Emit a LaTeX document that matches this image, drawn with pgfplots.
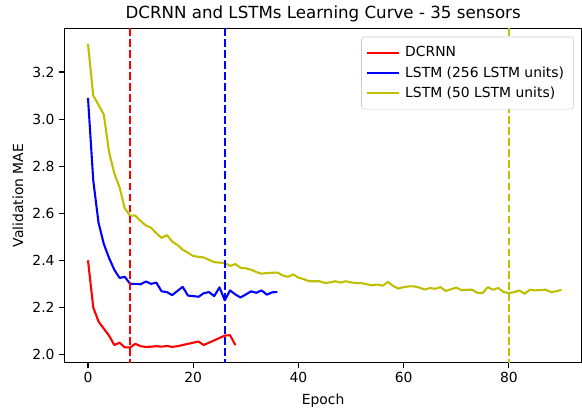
\documentclass[border=0pt]{standalone}
\usepackage{fontspec}
\setmainfont{DejaVu Sans}
\usepackage{pgfplots}
\pgfplotsset{compat=1.18}
\definecolor{mplY}{rgb}{0.75,0.75,0}
\definecolor{legFrame}{gray}{0.8}

\pgfplotstableread{
e v
0 2.40
1 2.20
2 2.14
3 2.11
4 2.08
5 2.04
6 2.05
7 2.03
8 2.03
9 2.045
10 2.035
11 2.032
12 2.033
13 2.035
14 2.033
15 2.036
16 2.032
17 2.035
18 2.04
19 2.045
20 2.05
21 2.055
22 2.04
23 2.05
24 2.06
25 2.07
26 2.08
27 2.082
28 2.04
}\dcrnn

\pgfplotstableread{
e v
0 3.09
1 2.74
2 2.56
3 2.47
4 2.41
5 2.36
6 2.325
7 2.33
8 2.30
9 2.30
10 2.298
11 2.31
12 2.30
13 2.305
14 2.268
15 2.265
16 2.252
17 2.27
18 2.287
19 2.25
20 2.248
21 2.245
22 2.26
23 2.265
24 2.248
25 2.285
26 2.23
27 2.272
28 2.255
29 2.242
30 2.255
31 2.268
32 2.262
33 2.272
34 2.254
35 2.264
36 2.265
}\lstmbig

\pgfplotstableread{
e v
0 3.32
1 3.10
2 3.06
3 3.02
4 2.86
5 2.77
6 2.71
7 2.62
8 2.59
9 2.59
10 2.567
11 2.548
12 2.538
13 2.515
14 2.495
15 2.507
16 2.48
17 2.465
18 2.445
19 2.432
20 2.418
21 2.415
22 2.412
23 2.402
24 2.392
25 2.390
26 2.389
27 2.376
28 2.384
29 2.368
30 2.366
31 2.360
32 2.350
33 2.343
34 2.346
35 2.347
36 2.348
37 2.336
38 2.330
39 2.340
40 2.326
41 2.320
42 2.311
43 2.311
44 2.311
45 2.304
46 2.306
47 2.311
48 2.305
49 2.311
50 2.306
51 2.303
52 2.303
53 2.298
54 2.294
55 2.297
56 2.292
57 2.308
58 2.291
59 2.280
60 2.286
61 2.289
62 2.289
63 2.284
64 2.276
65 2.282
66 2.279
67 2.286
68 2.270
69 2.277
70 2.284
71 2.273
72 2.275
73 2.275
74 2.262
75 2.261
76 2.286
77 2.275
78 2.282
79 2.265
80 2.261
81 2.265
82 2.272
83 2.258
84 2.275
85 2.272
86 2.274
87 2.275
88 2.265
89 2.268
90 2.275
}\lstmsmall

\begin{document}
\begin{tikzpicture}
\begin{axis}[
  scale only axis,
  width=372.7pt, height=240.5pt,
  xmin=-4.5, xmax=93.9,
  ymin=1.965, ymax=3.3845,
  xtick={0,20,40,60,80},
  ytick={2.0,2.2,2.4,2.6,2.8,3.0,3.2},
  yticklabel style={/pgf/number format/.cd, fixed, fixed zerofill, precision=1},
  /pgf/number format/assume math mode=true,
  tick align=outside,
  major tick length=3.5pt,
  every tick/.style={black, line width=0.8pt},
  axis line style={line width=0.8pt},
  xtick pos=bottom, ytick pos=left,
  tick label style={font=\fontsize{10}{12}\selectfont},
  label style={font=\fontsize{10}{12}\selectfont},
  xlabel={Epoch}, ylabel={Validation MAE},
  xlabel style={at={(axis description cs:0.5,-0.113)}, anchor=center},
  ylabel style={at={(axis description cs:-0.0894,0.5)}, anchor=center},
  legend style={at={(0.9846,0.9757)}, anchor=north east,
    font=\fontsize{10}{12}\selectfont, draw=legFrame, rounded corners=2pt,
    inner xsep=3pt, inner ysep=4pt,
    nodes={inner ysep=2.8pt, inner xsep=4pt}},
  legend cell align=left,
  legend image code/.code={\draw[#1] (0pt,0pt) -- (23pt,0pt);},
  every axis plot/.append style={line width=1.5pt, line join=round},
]
\addplot[red] table[x=e, y=v] {\dcrnn};
\addplot[blue] table[x=e, y=v] {\lstmbig};
\addplot[mplY] table[x=e, y=v] {\lstmsmall};
\legend{DCRNN, LSTM (256 LSTM units), LSTM (50 LSTM units)}
\addplot[red, dash pattern=on 5.55pt off 2.4pt, forget plot] coordinates {(8,1.9) (8,3.5)};
\addplot[blue, dash pattern=on 5.55pt off 2.4pt, forget plot] coordinates {(26,1.9) (26,3.5)};
\addplot[mplY, dash pattern=on 5.55pt off 2.4pt, forget plot] coordinates {(80,1.9) (80,3.5)};
\end{axis}
\node[font=\fontsize{12}{14}\selectfont, anchor=center, inner sep=0pt]
  at ([yshift=10.5pt]current axis.north) {DCRNN and LSTMs Learning Curve - 35 sensors};
\pgfresetboundingbox
\path ([xshift=-46.3pt,yshift=-32.9pt]current axis.south west) rectangle ([yshift=20.6pt]current axis.north east);
\end{tikzpicture}
\end{document}
